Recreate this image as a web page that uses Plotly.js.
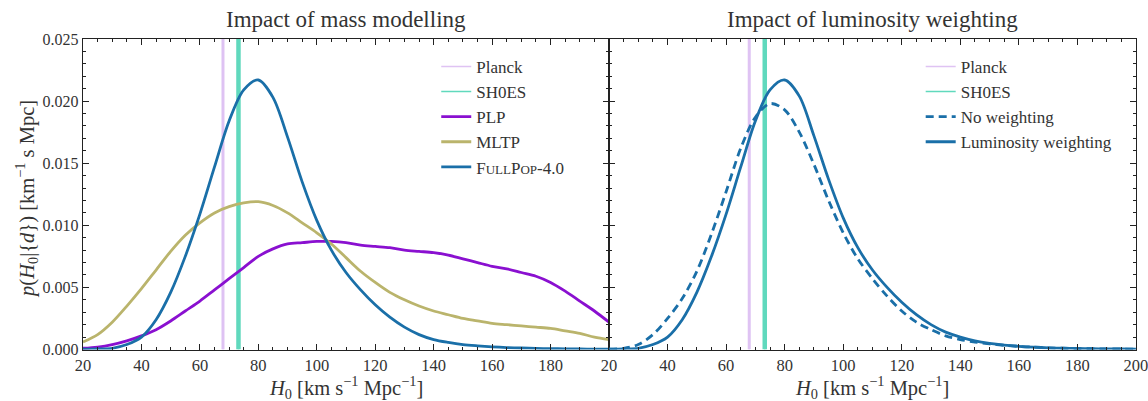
<!DOCTYPE html>
<html>
<head>
<meta charset="utf-8">
<script src="https://cdn.plot.ly/plotly-3.0.1.min.js"></script>
<style>html,body{margin:0;padding:0;background:#fff;}#chart{width:1148px;height:401px;}</style>
</head>
<body>
<div id="chart"></div>
<script>
// H0 grid (km/s/Mpc)
const h0 = [20,25,30,35,40,45,50,55,60,65,70,75,80,85,90,95,100,105,110,115,120,125,130,135,140,145,150,155,160,165,170,175,180,185,190,195,200];

// Left panel: impact of mass modelling
const plp = [0.0001,0.0002,0.0004,0.0007,0.0011,0.0016,0.0023,0.0031,0.0039,0.0048,0.0057,0.0066,0.0075,0.0081,0.0085,0.0086,0.0087,0.0087,0.0086,0.0084,0.0083,0.0082,0.0080,0.0079,0.0078,0.0076,0.0073,0.0070,0.0067,0.0065,0.0062,0.0059,0.0054,0.0047,0.0039,0.0031,0.0022];
const mltp = [0.0006,0.0012,0.0022,0.0035,0.0049,0.0064,0.0079,0.0092,0.0102,0.0110,0.0115,0.0118,0.0119,0.0116,0.0110,0.0102,0.0094,0.0085,0.0074,0.0063,0.0054,0.0046,0.0040,0.0035,0.0031,0.0028,0.0025,0.0023,0.0021,0.0020,0.0019,0.0018,0.0017,0.0015,0.0013,0.0010,0.0008];
const fullpop = [0.00002,0.00005,0.0001,0.0004,0.0010,0.0024,0.0046,0.0075,0.0109,0.0147,0.0184,0.0209,0.0217,0.0203,0.0171,0.0135,0.0104,0.0080,0.0062,0.0048,0.0036,0.0026,0.0018,0.0012,0.0008,0.00057,0.0004,0.0003,0.00022,0.00016,0.00012,0.00009,0.00007,0.00005,0.00004,0.00003,0.00002];

// Right panel: impact of luminosity weighting
const noWeighting = [0.00003,0.0001,0.0004,0.0012,0.0025,0.0041,0.0063,0.0093,0.0127,0.0162,0.0187,0.0198,0.0193,0.0175,0.0149,0.0120,0.0094,0.0073,0.0057,0.0043,0.0031,0.0022,0.0016,0.0011,0.0008,0.0006,0.00045,0.00034,0.00025,0.00019,0.00014,0.0001,0.00008,0.00006,0.00005,0.00004,0.00003];
const lumWeighting = [0.00002,0.00005,0.0001,0.0004,0.0010,0.0024,0.0046,0.0075,0.0109,0.0147,0.0184,0.0209,0.0217,0.0204,0.0172,0.0137,0.0106,0.0082,0.0064,0.0050,0.0038,0.0028,0.0020,0.0014,0.0010,0.0007,0.0005,0.00036,0.00026,0.00019,0.00014,0.0001,0.00008,0.00006,0.00005,0.00004,0.00003];

// Tick labels
const xTickVals = [20,40,60,80,100,120,140,160,180,200];
const xTickTextLeft = ['20','40','60','80','100','120','140','160','180',''];
const xTickTextRight = ['20','40','60','80','100','120','140','160','180','200'];

// Reference measurements
const plankH0 = 67.9;
const shoesH0 = 73.2;
const yLimits = [0, 0.025];

const serif = "Liberation Serif, DejaVu Serif, serif";
const cPlanck = "#dfc3f3", cShoes = "#60d9bd";
const cPLP = "#8a10d0", cMLTP = "#bab46c", cFull = "#1a6fa8";

function vband(xv, color, w, xa, ya, name, leg) {
  return [
    {x:[xv,xv], y:yLimits, xaxis:xa, yaxis:ya, mode:'lines', line:{color:color, width:w}, showlegend:false, hoverinfo:'skip'},
    {x:[xv,xv], y:yLimits, xaxis:xa, yaxis:ya, mode:'lines', line:{color:color, width:1.6}, name:name, legend:leg, showlegend:true}
  ];
}
function curve(y, color, name, xa, ya, leg, dash) {
  return {x:h0, y:y, xaxis:xa, yaxis:ya, mode:'lines', name:name, legend:leg,
    line:{color:color, width:2.8, shape:'spline', smoothing:0.9, dash:dash||'solid'}};
}

const traces = [].concat(
  vband(plankH0, cPlanck, 3, 'x', 'y', 'Planck', 'legend'),
  vband(shoesH0, cShoes, 4.5, 'x', 'y', 'SH0ES', 'legend'),
  [curve(plp, cPLP, 'PLP', 'x', 'y', 'legend'),
   curve(mltp, cMLTP, 'MLTP', 'x', 'y', 'legend'),
   curve(fullpop, cFull, 'F<span style="font-size:13px">ULL</span>P<span style="font-size:13px">OP</span>-4.0', 'x', 'y', 'legend')],
  vband(plankH0, cPlanck, 3, 'x2', 'y2', 'Planck', 'legend2'),
  vband(shoesH0, cShoes, 4.5, 'x2', 'y2', 'SH0ES', 'legend2'),
  [curve(noWeighting, cFull, 'No weighting', 'x2', 'y2', 'legend2', '8px,5px'),
   curve(lumWeighting, cFull, 'Luminosity weighting', 'x2', 'y2', 'legend2')]
);

const tickFont = {family: serif, size: 16.5, color: '#333'};
function xax(domain, anchor, ticktext) {
  return {domain: domain, anchor: anchor, range: [20, 200],
    tickmode: 'array', tickvals: xTickVals, ticktext: ticktext,
    ticks: 'inside', ticklen: 6, tickwidth: 1, tickcolor: '#222',
    minor: {ticks: 'inside', ticklen: 3, dtick: 5, tick0: 20, tickcolor: '#222'},
    showline: true, linecolor: '#222', linewidth: 1.2, mirror: 'ticks',
    ticklabeloverflow: 'allow',
    showgrid: false, zeroline: false, tickfont: tickFont, automargin: false};
}
function yax(anchor, labels) {
  return {domain: [0.1284, 0.9027], anchor: anchor, range: yLimits, dtick: 0.005,
    tickformat: '.3f', showticklabels: labels,
    ticks: 'inside', ticklen: 6, tickwidth: 1, tickcolor: '#222',
    minor: {ticks: 'inside', ticklen: 3, dtick: 0.001, tickcolor: '#222'},
    showline: true, linecolor: '#222', linewidth: 1.2, mirror: 'ticks',
    showgrid: false, zeroline: false, tickfont: {family: serif, size: 16, color: '#333'}, automargin: false};
}

const legFont = {family: serif, size: 17, color: '#333'};
const titleFont = {family: serif, size: 23, color: '#333'};
const axFont = {family: serif, size: 20.5, color: '#333'};
const layout = {
  width: 1148, height: 401,
  margin: {l: 0, r: 0, t: 0, b: 0},
  paper_bgcolor: '#fff', plot_bgcolor: '#fff',
  font: {family: serif},
  xaxis: xax([0.0723, 0.5305], 'y', xTickTextLeft),
  yaxis: yax('x', true),
  xaxis2: xax([0.5305, 0.9895], 'y2', xTickTextRight),
  yaxis2: yax('x2', false),
  legend: {x: 0.38, y: 0.878, xanchor: 'left', yanchor: 'top', bgcolor: 'rgba(0,0,0,0)', font: legFont, tracegroupgap: 0},
  legend2: {x: 0.802, y: 0.878, xanchor: 'left', yanchor: 'top', bgcolor: 'rgba(0,0,0,0)', font: legFont, tracegroupgap: 0},
  annotations: [
    {text: 'Impact of mass modelling', xref: 'paper', yref: 'paper', x: 0.3014, y: 0.952, xanchor: 'center', yanchor: 'middle', showarrow: false, font: titleFont},
    {text: 'Impact of luminosity weighting', xref: 'paper', yref: 'paper', x: 0.760, y: 0.952, xanchor: 'center', yanchor: 'middle', showarrow: false, font: titleFont},
    {text: '<i>H</i><sub>0</sub> [km s<sup>−1</sup> Mpc<sup>−1</sup>]', xref: 'paper', yref: 'paper', x: 0.3014, y: 0.034, xanchor: 'center', yanchor: 'middle', showarrow: false, font: axFont},
    {text: '<i>H</i><sub>0</sub> [km s<sup>−1</sup> Mpc<sup>−1</sup>]', xref: 'paper', yref: 'paper', x: 0.760, y: 0.034, xanchor: 'center', yanchor: 'middle', showarrow: false, font: axFont},
    {text: '<i>p</i>(<i>H</i><sub>0</sub>|{<i>d</i>}) [km<sup>−1</sup> s Mpc]', xref: 'paper', yref: 'paper', x: 0.023, y: 0.505, xanchor: 'center', yanchor: 'middle', textangle: -90, showarrow: false, font: axFont}
  ]
};

Plotly.newPlot('chart', traces, layout, {staticPlot: true, displayModeBar: false});
</script>
</body>
</html>
